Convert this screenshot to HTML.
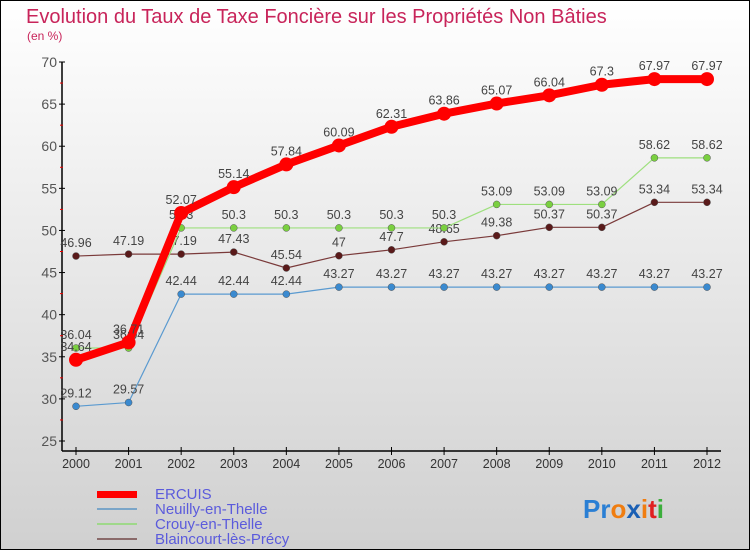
<!DOCTYPE html>
<html><head><meta charset="utf-8"><style>
body{margin:0;}
#c{width:750px;height:550px;position:relative;overflow:hidden;box-sizing:border-box;border:1px solid #000;background:linear-gradient(#ffffff,#d0d0d0);font-family:"Liberation Sans",sans-serif;}
svg{position:absolute;left:0;top:0;}
</style></head><body>
<div id="c">
<svg id="s" width="750" height="550">
<text x="25" y="22" font-size="20" fill="#c8245a">Evolution du Taux de Taxe Foncière sur les Propriétés Non Bâties</text>
<text x="26" y="39" font-size="12" fill="#c8245a">(en %)</text>
<g id="legend">
<rect x="96" y="490" width="40" height="7" fill="#ff0000"/>
<text x="154" y="498" font-size="15" fill="#5b5bdc">ERCUIS</text>
<line x1="96" y1="508" x2="136" y2="508" stroke="#7aa5c8" stroke-width="2"/>
<text x="154" y="513" font-size="15" fill="#5b5bdc">Neuilly-en-Thelle</text>
<line x1="96" y1="523" x2="136" y2="523" stroke="#9fd88a" stroke-width="2"/>
<text x="154" y="528" font-size="15" fill="#5b5bdc">Crouy-en-Thelle</text>
<line x1="96" y1="538" x2="136" y2="538" stroke="#8a6a6a" stroke-width="2"/>
<text x="154" y="543" font-size="15" fill="#5b5bdc">Blaincourt-lès-Précy</text>
</g>
<text x="582" y="517" font-size="26" font-weight="bold"><tspan fill="#2a7fd4">Pr</tspan><tspan fill="#f07d10">o</tspan><tspan fill="#1a5fb4">x</tspan><tspan fill="#f07d10">i</tspan><tspan fill="#e02020">t</tspan><tspan fill="#3cae3c">i</tspan></text>
</svg>
</div>
<script>
const years=[2000,2001,2002,2003,2004,2005,2006,2007,2008,2009,2010,2011,2012];
const yTicks=[25,30,35,40,45,50,55,60,65,70];
const ercuis=[34.64,36.71,52.07,55.14,57.84,60.09,62.31,63.86,65.07,66.04,67.3,67.97,67.97];
const neuilly=[29.12,29.57,42.44,42.44,42.44,43.27,43.27,43.27,43.27,43.27,43.27,43.27,43.27];
const crouy=[36.04,36.04,50.3,50.3,50.3,50.3,50.3,50.3,53.09,53.09,53.09,58.62,58.62];
const blaincourt=[46.96,47.19,47.19,47.43,45.54,47,47.7,48.65,49.38,50.37,50.37,53.34,53.34];
const NS="http://www.w3.org/2000/svg";
const s=document.getElementById('s');
const X=i=>75+i*(706-75)/(years.length-1);
const Y=v=>61+(70-v)*(440-61)/45;
function el(t,a,p){const e=document.createElementNS(NS,t);for(const k in a)e.setAttribute(k,a[k]);(p||s).appendChild(e);return e;}
const ax=el('g',{});


const yl=el('line',{x1:61,y1:Y(70),x2:61,y2:450,stroke:'#000','stroke-width':1.5},ax);


const xl=el('line',{x1:61,y1:450,x2:720,y2:450,stroke:'#000','stroke-width':1.5},ax);


yTicks.forEach((v,i)=>{
 el('line',{x1:58,y1:Y(v),x2:64,y2:Y(v),stroke:'#000'},ax);
 if(i<yTicks.length-1) el('line',{x1:59,y1:Y(v+2.5),x2:62,y2:Y(v+2.5),stroke:'#e00'},ax);
 const t=el('text',{x:56,y:Y(v)+5,'font-size':14,fill:'#555','text-anchor':'end'},ax);
 
 
 t.textContent=v;
});
years.forEach((y,i)=>{
 el('line',{x1:X(i),y1:446,x2:X(i),y2:454,stroke:'#000'},ax);
 const t=el('text',{x:X(i),y:467,'font-size':12.5,fill:'#333','text-anchor':'middle'},ax);
 
 
 t.textContent=y;
});
function series(data,name,color,lw,r,dot){
 const g=el('g',{});
 
 
 const pl=el('polyline',{points:data.map((v,i)=>X(i)+','+Y(v)).join(' '),fill:'none',stroke:color,'stroke-width':lw,'stroke-linejoin':'round'},g);
 
 
 data.forEach((v,i)=>{
  const c=el('circle',{cx:X(i),cy:Y(v),r:r,fill:dot,stroke:dot==='#ff0000'?'none':'#555','stroke-width':0.5},g);
  
  
  const t=el('text',{x:X(i),y:Y(v)-9,'font-size':12.5,fill:'#444','text-anchor':'middle'},g);
  
  
  t.textContent=v;
 });
}
series(blaincourt,'blaincourt','#7a3a3a',1.2,3.5,'#5a1a1a');
series(neuilly,'neuilly','#5a9ad0',1.2,3.5,'#3a8ad0');
series(crouy,'crouy','#9ee07e',1.2,3.5,'#7ad040');
series(ercuis,'ercuis','#ff0000',8,7,'#ff0000');
</script>
</body></html>
